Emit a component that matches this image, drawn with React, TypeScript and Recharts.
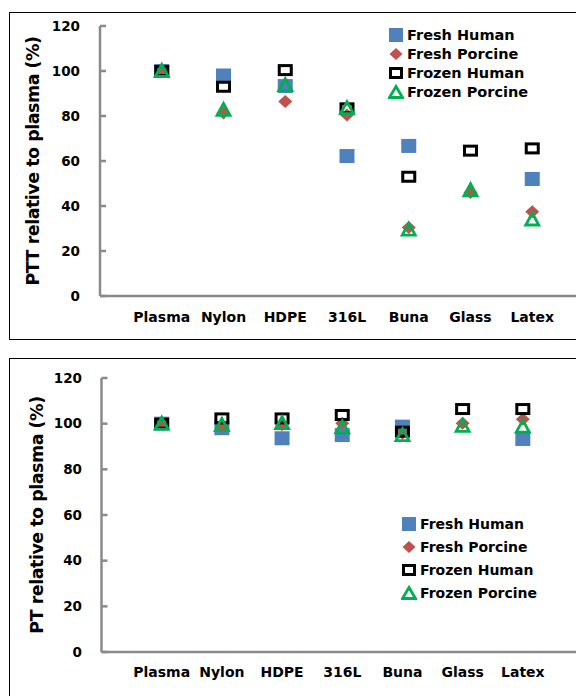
import React from 'react';
import { ScatterChart, Scatter, XAxis, YAxis, Legend } from 'recharts';

const categories = ['Plasma', 'Nylon', 'HDPE', '316L', 'Buna', 'Glass', 'Latex'];
const yTicks = [0, 20, 40, 60, 80, 100, 120];
const xTicks = [1, 2, 3, 4, 5, 6, 7];
const seriesNames = ['Fresh Human', 'Fresh Porcine', 'Frozen Human', 'Frozen Porcine'];

// PTT panel (top)
const pttFreshHuman = [100, 98, 93.3, 62.2, 66.7, null, 52];
const pttFreshPorcine = [100, 81.3, 86.4, 80.4, 30.5, 46, 37.5];
const pttFrozenHuman = [100, 93, 100.4, 83.4, 53, 64.6, 65.6];
const pttFrozenPorcine = [100, 82.7, 93.7, 83.5, 29.5, 47, 34];

// PT panel (bottom)
const ptFreshHuman = [100, 98, 93.6, 95, 98.7, null, 93.3];
const ptFreshPorcine = [100, 98.7, 99.5, 100.2, 95.8, 100.2, 101.9];
const ptFrozenHuman = [100, 102.3, 102.3, 103.8, 96.5, 106.4, 106.4];
const ptFrozenPorcine = [100, 99.4, 100.2, 98.4, 95, 99, 98.7];

const FONT = '"DejaVu Sans", sans-serif';
const AXIS_GRAY = '#8a8a8a';
const BLUE = '#4F81BD';
const RED = '#C0504D';
const GREEN = '#00B050';

const toPoints = (vals: (number | null)[]) =>
  vals
    .map((v, i) => (v == null ? null : { x: i + 1, y: v }))
    .filter((p) => p !== null) as { x: number; y: number }[];

const BlueSquare = (p: any) => (
  <rect x={p.cx - 7.5} y={p.cy - 7} width={15} height={14} fill={BLUE} />
);
const RedDiamond = (p: any) => (
  <polygon
    points={`${p.cx},${p.cy - 6.5} ${p.cx + 7},${p.cy} ${p.cx},${p.cy + 6.5} ${p.cx - 7},${p.cy}`}
    fill={RED}
  />
);
const BlackSquare = (p: any) => (
  <rect x={p.cx - 6} y={p.cy - 4.5} width={12} height={9} fill="none" stroke="#000" strokeWidth={3} />
);
const GreenTriangle = (p: any) => (
  <polygon
    points={`${p.cx},${p.cy - 6.5} ${p.cx + 6.5},${p.cy + 5.5} ${p.cx - 6.5},${p.cy + 5.5}`}
    fill="none"
    stroke={GREEN}
    strokeWidth={2.8}
    strokeLinejoin="miter"
  />
);

const LegendIcon = ({ i }: { i: number }) => (
  <svg width={16} height={16} style={{ display: 'block' }}>
    {i === 0 && <rect x={1} y={1} width={14} height={14} fill={BLUE} />}
    {i === 1 && <polygon points="8,2 14.5,8 8,14 1.5,8" fill={RED} />}
    {i === 2 && <rect x={2.5} y={3.5} width={11} height={9} fill="none" stroke="#000" strokeWidth={3} />}
    {i === 3 && <polygon points="8,2.5 14.5,13.5 1.5,13.5" fill="none" stroke={GREEN} strokeWidth={2.8} />}
  </svg>
);

const makeLegend = (fontSize: number, rowH: number) => () => (
  <div style={{ fontFamily: FONT, fontWeight: 'bold', fontSize, color: '#000' }}>
    {seriesNames.map((n, i) => (
      <div key={n} style={{ display: 'flex', alignItems: 'center', height: rowH, whiteSpace: 'nowrap' }}>
        <LegendIcon i={i} />
        <span style={{ marginLeft: 3 }}>{n}</span>
      </div>
    ))}
  </div>
);

const AxisTitle = (props: any) => {
  const { viewBox, text, cxOffset } = props;
  const x = viewBox.x + cxOffset;
  const y = viewBox.y + viewBox.height / 2;
  return (
    <text
      x={x}
      y={y}
      transform={`rotate(-90 ${x} ${y})`}
      textAnchor="middle"
      dominantBaseline="central"
      style={{ fontFamily: FONT, fontWeight: 'bold', fontSize: 17.5, letterSpacing: -0.5, fill: '#000' }}
    >
      {text}
    </text>
  );
};

type PanelProps = {
  width: number;
  height: number;
  yAxisWidth: number;
  xAxisHeight: number;
  tickMarginX: number;
  tickMarginY: number;
  title: string;
  titleOffset: number;
  series: (number | null)[][];
  legendLeft: number;
  legendTop: number;
  legendFont: number;
  legendRow: number;
};

const Panel = (p: PanelProps) => {
  const shapes = [BlueSquare, RedDiamond, BlackSquare, GreenTriangle];
  return (
    <ScatterChart width={p.width} height={p.height} margin={{ top: 26, right: 0, bottom: 0, left: 0 }}>
      <XAxis
        type="number"
        dataKey="x"
        domain={[0, 8]}
        ticks={xTicks}
        interval={0}
        tickFormatter={(v: number) => categories[v - 1] ?? ''}
        axisLine={{ stroke: AXIS_GRAY, strokeWidth: 2.5 }}
        tickLine={false}
        tickSize={0}
        tickMargin={p.tickMarginX}
        height={p.xAxisHeight}
        tick={{ fill: '#000', fontSize: 14, fontWeight: 'bold', fontFamily: FONT }}
      />
      <YAxis
        type="number"
        dataKey="y"
        domain={[0, 120]}
        ticks={yTicks}
        interval={0}
        width={p.yAxisWidth}
        axisLine={{ stroke: AXIS_GRAY, strokeWidth: 2.5 }}
        tickLine={{ stroke: AXIS_GRAY, strokeWidth: 2.5 }}
        tickSize={-6}
        tickMargin={p.tickMarginY}
        tick={{ fill: '#000', fontSize: 13.5, fontWeight: 'bold', fontFamily: FONT }}
        label={<AxisTitle text={p.title} cxOffset={p.titleOffset} />}
      />
      <Legend
        layout="horizontal"
        align="center"
        verticalAlign="middle"
        content={makeLegend(p.legendFont, p.legendRow)}
        wrapperStyle={{ left: p.legendLeft, top: p.legendTop, width: 'auto', height: 'auto' }}
      />
      {p.series.map((vals, i) => (
        <Scatter
          key={seriesNames[i]}
          name={seriesNames[i]}
          data={toPoints(vals)}
          shape={shapes[i]}
          isAnimationActive={false}
        />
      ))}
    </ScatterChart>
  );
};

export default function App() {
  return (
    <div
      style={{
        position: 'absolute',
        left: 0,
        top: 0,
        width: 576,
        height: 696,
        overflow: 'hidden',
        background: '#fff',
      }}
    >
      <div
        style={{
          position: 'absolute',
          left: 9,
          top: 11.5,
          width: 700,
          height: 328.5,
          border: '1.6px solid #000',
          boxSizing: 'border-box',
        }}
      />
      <div
        style={{
          position: 'absolute',
          left: 9,
          top: 357.5,
          width: 700,
          height: 400,
          border: '1.6px solid #000',
          boxSizing: 'border-box',
        }}
      />
      <div style={{ position: 'absolute', left: 0, top: 0 }}>
        <Panel
          width={594}
          height={340}
          yAxisWidth={100}
          xAxisHeight={44}
          tickMarginX={16}
          tickMarginY={26}
          title="PTT relative to plasma (%)"
          titleOffset={33}
          series={[pttFreshHuman, pttFreshPorcine, pttFrozenHuman, pttFrozenPorcine]}
          legendLeft={388}
          legendTop={25.5}
          legendFont={14.5}
          legendRow={19}
        />
      </div>
      <div style={{ position: 'absolute', left: 0, top: 352 }}>
        <Panel
          width={583}
          height={340}
          yAxisWidth={101.5}
          xAxisHeight={40}
          tickMarginX={15}
          tickMarginY={25.5}
          title="PT relative to plasma (%)"
          titleOffset={37}
          series={[ptFreshHuman, ptFreshPorcine, ptFrozenHuman, ptFrozenPorcine]}
          legendLeft={401}
          legendTop={160}
          legendFont={14}
          legendRow={23}
        />
      </div>
    </div>
  );
}
